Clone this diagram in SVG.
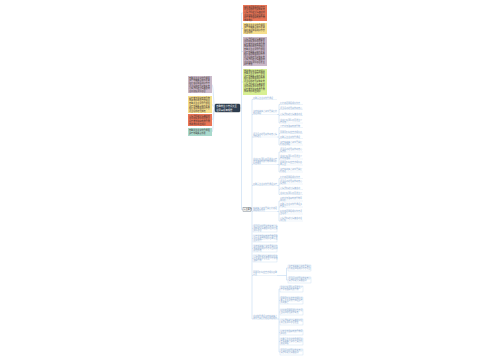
<svg xmlns="http://www.w3.org/2000/svg" width="500" height="360" viewBox="0 0 500 360">
<style>
text{font-family:"Noto Sans CJK SC","Noto Sans",sans-serif}
.bt{font-size:2.1px;fill:#3a3030}
.ct{font-size:2.3px;fill:#fff}
.it{font-size:2px;fill:#86a7cf}
.ul{stroke:#d3e3f3;stroke-width:0.4}
.cn{fill:none;stroke:#b4d0ee;stroke-width:0.5}
.ib{fill:#fff;stroke:#c3d9f1;stroke-width:0.4}
.rt{font-size:2px;fill:#333}
</style>
<rect width="500" height="360" fill="#fff"/>
<g id="connectors">
<path class="cn" d="M215,108 C213.5,108 213.5,84.5 212,84.5 M215,108 C213.5,108 213.5,104.5 212,104.5 M215,108 C213.5,108 213.5,120 212,120 M215,108 C213.5,108 213.5,132 212,132"/>
<path class="cn" d="M240,108 H241.5 M241.5,13 V209.5 M241.5,13 H243 M241.5,28.5 H243 M241.5,51.5 H243 M241.5,82 H243 M241.5,209.5 H243"/>
<path class="cn" d="M251,209.5 H252 M252,99.5 V319 M252,99.5 H253 M252,114.5 H253 M252,137 H253 M252,164.5 H253 M252,185.5 H253 M252,211.5 H253 M252,228.5 H253 M252,238.5 H253 M252,248.5 H253 M252,258.5 H253 M252,275.5 H253 M252,319 H253"/>
<path class="cn" d="M277,114.5 H279 M279,104.5 V123 M279,104.5 H280 M279,109.5 H280 M279,115.5 H280 M279,123 H280"/>
<path class="cn" d="M277,137 H279 M279,127.5 V145 M279,127.5 H280 M279,133.5 H280 M279,138.5 H280 M279,145 H280"/>
<path class="cn" d="M277,164.5 H279 M279,152 V172 M279,152 H280 M279,159 H280 M279,165 H280 M279,172 H280"/>
<path class="cn" d="M277,185.5 H279 M279,178.5 V194.5 M279,178.5 H280 M279,184 H280 M279,189.5 H280 M279,194.5 H280"/>
<path class="cn" d="M277,211.5 H279 M279,201 V221 M279,201 H280 M279,207 H280 M279,214 H280 M279,221 H280"/>
<path class="cn" d="M277,275.5 H286.5 M286.5,268 V280 M286.5,268 H288 M286.5,280 H288"/>
<path class="cn" d="M277,319 H279 M279,289 V352 M279,289 H280 M279,300.5 H280 M279,312 H280 M279,322 H280 M279,332.5 H280 M279,341.5 H280 M279,352 H280"/>
</g>
<g id="center">
<rect x="215" y="104" width="25" height="8" rx="1" fill="#2f3f52" stroke="#1d2836" stroke-width="0.4"/>
<text class="ct"><tspan x="216.2" y="107.3">春季养生小常识大全</tspan><tspan x="216.2" y="110.6">注意事项有哪些</tspan></text>
</g>
<g id="left1">
<rect x="188" y="76" width="24" height="17" fill="#cbb9c9"/>
<text class="bt"><tspan x="189" y="78.8">春季养生注意饮食调理</tspan><tspan x="189" y="81.4">多吃新鲜蔬菜和水果类</tspan><tspan x="189" y="84">保持充足睡眠规律作息</tspan><tspan x="189" y="86.6">适当运动增强身体素质</tspan><tspan x="189" y="89.2">心情舒畅避免情绪波动</tspan><tspan x="189" y="91.8">注意保暖预防感冒</tspan></text>
</g>
<g id="left2">
<rect x="188" y="96" width="24" height="17" fill="#f6df8c"/>
<text class="bt"><tspan x="189" y="98.8">少吃辛辣油腻刺激食物</tspan><tspan x="189" y="101.4">早睡早起顺应自然规律</tspan><tspan x="189" y="104">春季养生注意饮食调理</tspan><tspan x="189" y="106.6">多吃新鲜蔬菜和水果类</tspan><tspan x="189" y="109.2">保持充足睡眠规律作息</tspan><tspan x="189" y="111.8">适当运动增强体质</tspan></text>
</g>
<g id="left3">
<rect x="188" y="114" width="24" height="12" fill="#ea7556"/>
<text class="bt"><tspan x="189" y="116.8">心情舒畅避免情绪波动</tspan><tspan x="189" y="119.4">注意保暖预防感冒发生</tspan><tspan x="189" y="122">少吃辛辣油腻刺激食物</tspan><tspan x="189" y="124.6">早睡早起顺应规律</tspan></text>
</g>
<g id="left4">
<rect x="188" y="128" width="24" height="8" fill="#a9d9cc"/>
<text class="bt"><tspan x="189" y="130.9">春季养生注意饮食调理</tspan><tspan x="189" y="133.7">多吃新鲜蔬菜水果</tspan></text>
</g>
<g id="top1">
<rect x="243" y="5" width="24" height="16" fill="#ea7556"/>
<text class="bt"><tspan x="244" y="7.7">保持充足睡眠规律作息</tspan><tspan x="244" y="10.3">适当运动增强身体素质</tspan><tspan x="244" y="12.9">心情舒畅避免情绪波动</tspan><tspan x="244" y="15.5">注意保暖预防感冒发生</tspan><tspan x="244" y="18.1">少吃辛辣油腻刺激食物</tspan><tspan x="244" y="20.5">早睡早起</tspan></text>
</g>
<g id="top2">
<rect x="243" y="23" width="24" height="11" fill="#f6df8c"/>
<text class="bt"><tspan x="244" y="25.6">春季养生注意饮食调理</tspan><tspan x="244" y="28.1">多吃新鲜蔬菜和水果类</tspan><tspan x="244" y="30.6">保持充足睡眠规律作息</tspan><tspan x="244" y="33.1">适当运动</tspan></text>
</g>
<g id="top3">
<rect x="243" y="37" width="24" height="29" fill="#cbb9c9"/>
<text class="bt"><tspan x="244" y="39.6">心情舒畅避免情绪波动</tspan><tspan x="244" y="42.2">注意保暖预防感冒发生</tspan><tspan x="244" y="44.8">少吃辛辣油腻刺激食物</tspan><tspan x="244" y="47.4">早睡早起顺应自然规律</tspan><tspan x="244" y="50">春季养生注意饮食调理</tspan><tspan x="244" y="52.6">多吃新鲜蔬菜和水果类</tspan><tspan x="244" y="55.2">保持充足睡眠规律作息</tspan><tspan x="244" y="57.8">适当运动增强身体素质</tspan><tspan x="244" y="60.4">心情舒畅避免情绪波动</tspan><tspan x="244" y="63">注意保暖预防感冒发生</tspan><tspan x="244" y="65.4">少吃辛辣</tspan></text>
</g>
<g id="top4">
<rect x="243" y="69" width="24" height="26" fill="#d8ef92"/>
<text class="bt"><tspan x="244" y="71.6">早睡早起顺应自然规律</tspan><tspan x="244" y="74.2">春季养生注意饮食调理</tspan><tspan x="244" y="76.8">多吃新鲜蔬菜和水果类</tspan><tspan x="244" y="79.4">保持充足睡眠规律作息</tspan><tspan x="244" y="82">适当运动增强身体素质</tspan><tspan x="244" y="84.6">心情舒畅避免情绪波动</tspan><tspan x="244" y="87.2">注意保暖预防感冒发生</tspan><tspan x="244" y="89.8">少吃辛辣油腻刺激食物</tspan><tspan x="244" y="92.4">早睡早起顺应规律</tspan></text>
</g>
<g id="root">
<rect x="243" y="207.5" width="8" height="4" fill="#fff" stroke="#5a6878" stroke-width="0.4"/>
<text class="rt" x="243.8" y="210.3">养生要点</text>
</g>
<g id="l1a"><text class="it" x="253" y="98.8">春季养生注意饮食调理</text><line class="ul" x1="253" y1="99.5" x2="277" y2="99.5"/></g>
<g id="l1b"><text class="it"><tspan x="253" y="112">多吃新鲜蔬菜和水果类保持</tspan><tspan x="253" y="114">充足睡眠</tspan></text><line class="ul" x1="253" y1="114.5" x2="277" y2="114.5"/></g>
<g id="l1c"><text class="it"><tspan x="253" y="134.5">适当运动增强身体素质心情</tspan><tspan x="253" y="136.5">舒畅避免</tspan></text><line class="ul" x1="253" y1="137" x2="277" y2="137"/></g>
<g id="l1d"><text class="it"><tspan x="253" y="160">注意保暖预防感冒发生少吃</tspan><tspan x="253" y="162">辛辣油腻刺激食物早睡早起</tspan><tspan x="253" y="164">顺应规律</tspan></text><line class="ul" x1="253" y1="164.5" x2="277" y2="164.5"/></g>
<g id="l1e"><text class="it" x="253" y="184.8">春季养生注意饮食调理多吃</text><line class="ul" x1="253" y1="185.5" x2="277" y2="185.5"/></g>
<g id="l1f"><text class="it"><tspan x="253" y="209">新鲜蔬菜和水果类保持充足</tspan><tspan x="253" y="211">睡眠规律作息</tspan></text><line class="ul" x1="253" y1="211.5" x2="277" y2="211.5"/></g>
<g id="l1g"><rect class="ib" x="253" y="225" width="24" height="7"/><text class="it"><tspan x="253.6" y="227.2">适当运动增强身体素质心情</tspan><tspan x="253.6" y="229.2">舒畅避免情绪波动注意保暖</tspan><tspan x="253.6" y="231.2">预防感冒</tspan></text></g>
<g id="l1h"><rect class="ib" x="253" y="235" width="24" height="7"/><text class="it"><tspan x="253.6" y="237.2">少吃辛辣油腻刺激食物早睡</tspan><tspan x="253.6" y="239.2">早起顺应自然规律春季养生</tspan><tspan x="253.6" y="241.2">注意饮食</tspan></text></g>
<g id="l1i"><rect class="ib" x="253" y="245" width="24" height="7"/><text class="it"><tspan x="253.6" y="247.2">多吃新鲜蔬菜和水果类保持</tspan><tspan x="253.6" y="249.2">充足睡眠规律作息适当运动</tspan><tspan x="253.6" y="251.2">增强体质</tspan></text></g>
<g id="l1j"><rect class="ib" x="253" y="255" width="24" height="7"/><text class="it"><tspan x="253.6" y="257.2">心情舒畅避免情绪波动注意</tspan><tspan x="253.6" y="259.2">保暖预防感冒发生少吃辛辣</tspan><tspan x="253.6" y="261.2">油腻食物</tspan></text></g>
<g id="l1k"><text class="it"><tspan x="253" y="273">早睡早起顺应自然规律春季</tspan><tspan x="253" y="275">养生</tspan></text><line class="ul" x1="253" y1="275.5" x2="277" y2="275.5"/></g>
<g id="l1l"><text class="it"><tspan x="253" y="316.5">注意饮食调理多吃新鲜蔬菜</tspan><tspan x="253" y="318.5">和水果类保持充足睡眠规律</tspan></text><line class="ul" x1="253" y1="319" x2="277" y2="319"/></g>
<g id="l2-1"><text class="it" x="280" y="104">保持充足睡眠规律作息</text><line class="ul" x1="280" y1="104.5" x2="303" y2="104.5"/></g>
<g id="l2-2"><text class="it" x="280" y="109">适当运动增强身体素质心</text><line class="ul" x1="280" y1="109.5" x2="303" y2="109.5"/></g>
<g id="l2-3"><text class="it" x="280" y="115">心情舒畅避免情绪波动注</text><line class="ul" x1="280" y1="115.5" x2="303" y2="115.5"/></g>
<g id="l2-4"><text class="it"><tspan x="280" y="120.5">注意保暖预防感冒发生少</tspan><tspan x="280" y="122.5">吃辛辣</tspan></text><line class="ul" x1="280" y1="123" x2="303" y2="123"/></g>
<g id="l2-5"><text class="it" x="280" y="127">少吃辛辣油腻刺激食物</text><line class="ul" x1="280" y1="127.5" x2="303" y2="127.5"/></g>
<g id="l2-6"><text class="it" x="280" y="133">早睡早起顺应自然规律春</text><line class="ul" x1="280" y1="133.5" x2="303" y2="133.5"/></g>
<g id="l2-7"><text class="it" x="280" y="138">春季养生注意饮食调理</text><line class="ul" x1="280" y1="138.5" x2="303" y2="138.5"/></g>
<g id="l2-8"><text class="it"><tspan x="280" y="142.5">多吃新鲜蔬菜和水果类保</tspan><tspan x="280" y="144.5">持充足睡眠</tspan></text><line class="ul" x1="280" y1="145" x2="303" y2="145"/></g>
<g id="l2-9"><text class="it"><tspan x="280" y="149.5">适当运动增强身体素质心</tspan><tspan x="280" y="151.5">情舒畅</tspan></text><line class="ul" x1="280" y1="152" x2="303" y2="152"/></g>
<g id="l2-10"><text class="it"><tspan x="280" y="156.5">注意保暖预防感冒发生少</tspan><tspan x="280" y="158.5">吃辛辣油腻</tspan></text><line class="ul" x1="280" y1="159" x2="303" y2="159"/></g>
<g id="l2-11"><text class="it"><tspan x="280" y="162.5">早睡早起顺应自然规律春</tspan><tspan x="280" y="164.5">季养生</tspan></text><line class="ul" x1="280" y1="165" x2="303" y2="165"/></g>
<g id="l2-12"><text class="it"><tspan x="280" y="169.5">多吃新鲜蔬菜和水果类保</tspan><tspan x="280" y="171.5">持充足</tspan></text><line class="ul" x1="280" y1="172" x2="303" y2="172"/></g>
<g id="l2-13"><text class="it" x="280" y="178">保持充足睡眠规律作息</text><line class="ul" x1="280" y1="178.5" x2="303" y2="178.5"/></g>
<g id="l2-14"><text class="it"><tspan x="280" y="181.5">适当运动增强身体素质心</tspan><tspan x="280" y="183.5">情舒畅</tspan></text><line class="ul" x1="280" y1="184" x2="303" y2="184"/></g>
<g id="l2-15"><text class="it" x="280" y="189">心情舒畅避免情绪波动</text><line class="ul" x1="280" y1="189.5" x2="303" y2="189.5"/></g>
<g id="l2-16"><text class="it" x="280" y="194">注意保暖预防感冒发生少</text><line class="ul" x1="280" y1="194.5" x2="303" y2="194.5"/></g>
<g id="l2-17"><text class="it"><tspan x="280" y="198.5">少吃辛辣油腻刺激食物早</tspan><tspan x="280" y="200.5">睡早起</tspan></text><line class="ul" x1="280" y1="201" x2="303" y2="201"/></g>
<g id="l2-18"><text class="it"><tspan x="280" y="204.5">春季养生注意饮食调理多</tspan><tspan x="280" y="206.5">吃蔬菜</tspan></text><line class="ul" x1="280" y1="207" x2="303" y2="207"/></g>
<g id="l2-19"><text class="it"><tspan x="280" y="211.5">保持充足睡眠规律作息适</tspan><tspan x="280" y="213.5">当运动</tspan></text><line class="ul" x1="280" y1="214" x2="303" y2="214"/></g>
<g id="l2-20"><text class="it"><tspan x="280" y="218.5">心情舒畅避免情绪波动注</tspan><tspan x="280" y="220.5">意保暖</tspan></text><line class="ul" x1="280" y1="221" x2="303" y2="221"/></g>
<g id="l2-k1"><rect class="ib" x="288" y="265" width="23" height="6"/><text class="it"><tspan x="288.6" y="267.2">多吃新鲜蔬菜和水果类保</tspan><tspan x="288.6" y="269.2">持充足睡眠规律作息适当</tspan></text></g>
<g id="l2-k2"><rect class="ib" x="288" y="277" width="23" height="6"/><text class="it"><tspan x="288.6" y="279.2">适当运动增强身体素质心</tspan><tspan x="288.6" y="281.2">情舒畅避免情绪波动</tspan></text></g>
<g id="l2-l1"><rect class="ib" x="280" y="286" width="23" height="6"/><text class="it"><tspan x="280.6" y="288.2">注意保暖预防感冒发生少</tspan><tspan x="280.6" y="290.2">吃辛辣油腻刺激食物</tspan></text></g>
<g id="l2-l2"><rect class="ib" x="280" y="297" width="23" height="7"/><text class="it"><tspan x="280.6" y="299.2">早睡早起顺应自然规律春</tspan><tspan x="280.6" y="301.2">季养生注意饮食调理多吃</tspan><tspan x="280.6" y="303.2">新鲜蔬菜</tspan></text></g>
<g id="l2-l3"><rect class="ib" x="280" y="309" width="23" height="6"/><text class="it"><tspan x="280.6" y="311.2">保持充足睡眠规律作息适</tspan><tspan x="280.6" y="313.2">当运动增强身体素质</tspan></text></g>
<g id="l2-l4"><rect class="ib" x="280" y="319" width="23" height="6"/><text class="it"><tspan x="280.6" y="321.2">心情舒畅避免情绪波动注</tspan><tspan x="280.6" y="323.2">意保暖预防感冒发生</tspan></text></g>
<g id="l2-l5"><rect class="ib" x="280" y="330" width="23" height="5"/><text class="it"><tspan x="280.6" y="332">少吃辛辣油腻刺激食物早</tspan><tspan x="280.6" y="334">睡早起</tspan></text></g>
<g id="l2-l6"><rect class="ib" x="280" y="338" width="23" height="7"/><text class="it"><tspan x="280.6" y="340.2">春季养生注意饮食调理多</tspan><tspan x="280.6" y="342.2">吃新鲜蔬菜和水果类保持</tspan><tspan x="280.6" y="344.2">充足睡眠</tspan></text></g>
<g id="l2-l7"><rect class="ib" x="280" y="349" width="23" height="6"/><text class="it"><tspan x="280.6" y="351.2">适当运动增强身体素质心</tspan><tspan x="280.6" y="353.2">情舒畅避免情绪波动</tspan></text></g>
</svg>
